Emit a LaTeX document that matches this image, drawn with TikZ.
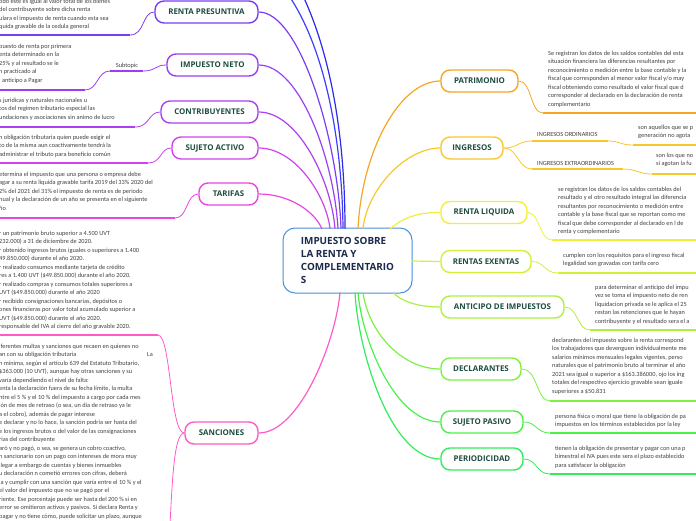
\documentclass[tikz,border=0pt]{standalone}
\usepackage{fontspec}
\setmainfont{Carlito}
\newfontfamily\titf{Open Sans}
\definecolor{tgreen}{HTML}{1E4D40}
\definecolor{bgray}{HTML}{404040}
\definecolor{cblue}{HTML}{4A90D9}
\definecolor{cnavy}{HTML}{1B2A4A}
\definecolor{blA}{HTML}{2B2BE8}
\definecolor{blB}{HTML}{3D3DFF}
\definecolor{rpC}{HTML}{7A3DF2}
\definecolor{inC}{HTML}{9B3FF0}
\definecolor{coC}{HTML}{AE3FEF}
\definecolor{saC}{HTML}{CF43EE}
\definecolor{taC}{HTML}{EA46E0}
\definecolor{snC}{HTML}{FF5AC8}
\definecolor{paC}{HTML}{F5A623}
\definecolor{igC}{HTML}{F8C72E}
\definecolor{rlC}{HTML}{F2EE3A}
\definecolor{reC}{HTML}{D2F03A}
\definecolor{anC}{HTML}{AEF03F}
\definecolor{deC}{HTML}{7EF042}
\definecolor{spC}{HTML}{4CF04A}
\definecolor{peC}{HTML}{33EC5C}
\begin{document}
\begin{tikzpicture}[x=1pt,y=-1pt,
  topicbox/.style={draw=#1, line width=1.4pt, rounded corners=9pt, fill=white,
    inner sep=0pt, minimum height=22pt,
    font=\titf\bfseries\fontsize{7.9}{9}\selectfont, text=tgreen},
  txt/.style={anchor=north west, inner sep=0pt, align=left,
    font=\fontsize{6.3}{8.5}\selectfont, text=bgray},
  lbl/.style={inner sep=0pt, font=\fontsize{6.3}{8.5}\selectfont, text=bgray},
  conn/.style={line width=1.2pt, draw=#1},
  uline/.style={line width=2.2pt, draw=#1},
  subc/.style={line width=0.8pt, draw=#1}]
\useasboundingbox (0,0) rectangle (696,520);

% ---------- central topic ----------
\node[draw=cblue, line width=1pt, rounded corners=12pt, fill=white,
  minimum width=129pt, minimum height=65pt, inner sep=0pt, align=left,
  font=\titf\bfseries\fontsize{9.9}{13.3}\selectfont, text=cnavy] (c) at (347.5,260.5)
  {IMPUESTO SOBRE\\LA RENTA Y\\COMPLEMENTARIO\\S};

% ---------- left topics ----------
\node[topicbox=rpC, minimum width=103pt] (rp) at (206.5,12) {RENTA PRESUNTIVA};
\node[topicbox=inC, minimum width=91pt] (in) at (212.5,65) {IMPUESTO NETO};
\node[topicbox=coC, minimum width=97pt] (co) at (209.5,112) {CONTRIBUYENTES};
\node[topicbox=saC, minimum width=86pt] (sa) at (215,148) {SUJETO ACTIVO};
\node[topicbox=taC, minimum width=59pt] (ta) at (228.5,194) {TARIFAS};
\node[topicbox=snC, minimum width=73pt] (sn) at (221.5,433) {SANCIONES};

% ---------- right topics ----------
\node[topicbox=paC, minimum width=77pt] (pa) at (479.5,81) {PATRIMONIO};
\node[topicbox=igC, minimum width=62pt] (ig) at (472,148) {INGRESOS};
\node[topicbox=rlC, minimum width=86pt] (rl) at (484,212.5) {RENTA LIQUIDA};
\node[topicbox=reC, minimum width=90pt] (re) at (486,261.5) {RENTAS EXENTAS};
\node[topicbox=anC, minimum width=123pt] (an) at (502.5,307) {ANTICIPO DE IMPUESTOS};
\node[topicbox=deC, minimum width=80pt] (de) at (481,369) {DECLARANTES};
\node[topicbox=spC, minimum width=82pt] (sp) at (482,422) {SUJETO PASIVO};
\node[topicbox=peC, minimum width=82pt] (pe) at (482,459) {PERIODICIDAD};

% ---------- connection points on the central topic ----------
\coordinate (cA) at (345,228.5);
\coordinate (cB) at (343,228.5);
\coordinate (c1) at (341,228.5);
\coordinate (c2) at (338,228.5);
\coordinate (c3) at (335,228.5);
\coordinate (c4) at (330,228.5);
\coordinate (c5) at (322,229);
\coordinate (c6) at (340,292.5);
\coordinate (r1) at (358,228.5);
\coordinate (r2) at (363,228.5);
\coordinate (r3) at (390,229);
\coordinate (r4) at (412,261);
\coordinate (r5) at (393,292.5);
\coordinate (r6) at (363,292.5);
\coordinate (r7) at (358,292.5);
\coordinate (r8) at (355,292.5);
\coordinate (offA) at (255,-40);
\coordinate (offB) at (255,-75);

% ---------- main connectors ----------
\draw[conn=blA] (cA) .. controls (345,120) and (325,-5) .. (offB);
\draw[conn=blB] (cB) .. controls (342,130) and (320,5) .. (offA);
\draw[conn=rpC] (rp.east) .. controls (300,12) and (338,140) .. (c1);
\draw[conn=inC] (in.east) .. controls (300,65) and (334,160) .. (c2);
\draw[conn=coC] (co.east) .. controls (298,112) and (331,180) .. (c3);
\draw[conn=saC] (sa.east) .. controls (295,148) and (326,195) .. (c4);
\draw[conn=taC] (ta.east) .. controls (290,194) and (315,212) .. (c5);
\draw[conn=snC] (sn.east) .. controls (300,433) and (336,340) .. (c6);
\draw[conn=paC] (pa.west) .. controls (400,81) and (362,150) .. (r1);
\draw[conn=igC] (ig.west) .. controls (405,148) and (367,190) .. (r2);
\draw[conn=rlC] (rl.west) .. controls (415,212) and (400,220) .. (r3);
\draw[conn=reC] (re.west) -- (r4);
\draw[conn=anC] (an.west) .. controls (415,307) and (400,300) .. (r5);
\draw[conn=deC] (de.west) .. controls (400,369) and (368,330) .. (r6);
\draw[conn=spC] (sp.west) .. controls (395,422) and (362,340) .. (r7);
\draw[conn=peC] (pe.west) .. controls (390,459) and (358,350) .. (r8);

% ---------- left texts ----------
\node[txt, font=\fontsize{6.3}{8.4}\selectfont] (rpt) at (-1,-1)
 {odo este es igual al valor total de los bienes\\
  del contribuyente sobre dicha renta\\
  ulara el impuesto de renta cuando esta sea\\
  quida gravable de la cedula general};
\coordinate (rpu0) at (0,35); \coordinate (rpu1) at (130,35);
\draw[uline=rpC] (rpu0) -- (rpu1);
\draw[subc=rpC] (rp.west) .. controls (142,12) and (145,35) .. (rpu1);

\node[lbl] (subt) at (127,66) {Subtopic};
\coordinate (st0) at (110,71); \coordinate (st1) at (143,71);
\draw[uline=inC] (st0) -- (st1);
\draw[subc=inC] (in.west) .. controls (155,65) and (156,71) .. (st1);
\node[txt] (int) at (-1,43.5)
 {puesto de renta por primera\\
  enta determinado en la\\
  25\% y al resultado se le\\
  n practicado al\\
  l anticipo a Pagar};
\coordinate (inu0) at (0,90); \coordinate (inu1) at (85,90);
\draw[uline=inC] (inu0) -- (inu1);
\draw[subc=inC] (st0) .. controls (97,71) and (98,90) .. (inu1);

\node[txt] (cot) at (-1,97.5)
 {s juridicas y naturales nacionales u\\
  tos del regimen tributario especial las\\
  undaciones y asociaciones sin animo de lucro};
\coordinate (cou0) at (0,127); \coordinate (cou1) at (135,127);
\draw[uline=coC] (cou0) -- (cou1);
\draw[subc=coC] (co.west) .. controls (148,112) and (150,127) .. (cou1);

\node[txt] (sat) at (-1,134.5)
 {n obligación tributaria quien puede exigir el\\
  to de la misma aun coactivamente tendrá la\\
  administrar el tributo para beneficio común};
\coordinate (sau0) at (0,163); \coordinate (sau1) at (148,163);
\draw[uline=saC] (sau0) -- (sau1);
\draw[subc=saC] (sa.west) .. controls (160,148) and (162,163) .. (sau1);

\node[txt] (tat) at (-1,171.5)
 {etermina el impuesto que una persona o empresa debe\\
  agar a su renta liquida gravable tarifa 2019 del 33\% 2020 del\\
  2\% del 2021 del 31\% el impuesto de renta es de periodo\\
  nual y la declaración de un año se presenta en el siguiente\\
  ño};
\coordinate (tau0) at (0,218); \coordinate (tau1) at (175,218);
\draw[uline=taC] (tau0) -- (tau1);
\draw[subc=taC] (ta.west) .. controls (186,194) and (188,218) .. (tau1);

\node[txt] (dect) at (-1,230.5)
 {r un patrimonio bruto superior a 4.500 UVT\\
  232.000) a 31 de diciembre de 2020.\\
  r obtenido ingresos brutos iguales o superiores a 1.400\\
  49.850.000) durante el año 2020.\\
  r realizado consumos mediante tarjeta de crédito\\
  res a 1.400 UVT (\$49.850.000) durante el año 2020.\\
  r realizado compras y consumos totales superiores a\\
  UVT (\$49.850.000) durante el año 2020\\
  r recibido consignaciones bancarias, depósitos o\\
  ones financieras por valor total acumulado superior a\\
  UVT (\$49.850.000) durante el año 2020.\\
  responsable del IVA al cierre del año gravable 2020.};
\coordinate (deu0) at (0,335); \coordinate (deu1) at (158,335);
\draw[uline=snC] (deu0) -- (deu1);
\draw[subc=snC] (sn.west) .. controls (170,433) and (171,335) .. (deu1);

\node[txt] (mult) at (-1,343.5)
 {iferentes multas y sanciones que recaen en quienes no\\
  \makebox[148pt][l]{an con su obligación tributaria}La\\
  n mínima, según el artículo 639 del Estatuto Tributario,\\
  \$363.000 (10 UVT), aunque hay otras sanciones y su\\
  varía dependiendo el nivel de falta:\\
  enta la declaración fuera de su fecha límite, la multa\\
  ntre el 5 \% y el 10 \% del impuesto a cargo por cada mes\\
  ión de mes de retraso (o sea, un día de retraso ya le\\
  a el cobro), además de pagar interese\\
  e declarar y no lo hace, la sanción podría ser hasta del\\
  e los ingresos brutos o del valor de las consignaciones\\
  rias del contribuyente\\
  aró y no pagó, o sea, se genera un cobro coactivo,\\
  n sancionario con un pago con intereses de mora muy\\
  llegar a embargo de cuentas y bienes inmuebles\\
  u declaración n cometió errores con cifras, deberá\\
  la y cumplir con una sanción que varía entre el 10 \% y el\\
  el valor del impuesto que no se pagó por el\\
  riente. Ese porcentaje puede ser hasta del 200 \% si en\\
  error se omitieron activos y pasivos. Si declara Renta y\\
  pagar y no tiene cómo, puede solicitar un plazo, aunque};
\coordinate (mu1) at (168,560);
\draw[subc=snC] (sn.west) .. controls (172,433) and (172,500) .. (mu1);

% ---------- right texts ----------
\node[txt] (pat) at (548,50.5)
 {Se registran los datos de los saldos contables del esta\\
  situación financiera las diferencias resultantes por\\
  reconocimiento o medición entre la base contable y la\\
  fiscal que corresponden al menor valor fiscal y/o may\\
  fiscal obteniendo como resultado el valor fiscal que d\\
  corresponder al declarado en la declaración de renta\\
  complementario};
\coordinate (pau0) at (543,113); \coordinate (pau1) at (696,113);
\draw[uline=paC] (pau0) -- (pau1);
\draw[subc=paC] (pa.east) .. controls (532,81) and (530,113) .. (pau0);

\node[lbl, anchor=west] (ord) at (537,134) {INGRESOS ORDINARIOS};
\coordinate (oru0) at (532,141); \coordinate (oru1) at (608,141);
\draw[uline=igC] (oru0) -- (oru1);
\draw[subc=igC] (ig.east) .. controls (518,148) and (518,141) .. (oru0);
\node[txt] (ordt) at (638,124.5) {son aquellos que se p\\generación no agota};
\coordinate (ort0) at (633,145); \coordinate (ort1) at (696,145);
\draw[uline=igC] (ort0) -- (ort1);
\draw[subc=igC] (oru1) .. controls (620,141) and (620,145) .. (ort0);

\node[lbl, anchor=west] (ext) at (537,163) {INGRESOS EXTRAORDINARIOS};
\coordinate (exu0) at (532,169); \coordinate (exu1) at (623,169);
\draw[uline=igC] (exu0) -- (exu1);
\draw[subc=igC] (ig.east) .. controls (518,148) and (518,169) .. (exu0);
\node[txt] (extt) at (656,152.5) {son los que no\\si agotan la fu};
\coordinate (ext0) at (652,174); \coordinate (ext1) at (696,174);
\draw[uline=igC] (ext0) -- (ext1);
\draw[subc=igC] (exu1) .. controls (637,169) and (638,174) .. (ext0);

\node[txt] (rlt) at (558,186.5)
 {se registran los datos de los saldos contables del\\
  resultado y el otro resultado integral las diferencia\\
  resultantes por reconocimiento o medición entre\\
  contable y la base fiscal que se reportan como me\\
  fiscal que debe corresponder al declarado en l de\\
  renta y complementario};
\coordinate (rlu0) at (552,240); \coordinate (rlu1) at (696,240);
\draw[uline=rlC] (rlu0) -- (rlu1);
\draw[subc=rlC] (rl.east) .. controls (540,212.5) and (539,240) .. (rlu0);

\node[txt] (ret) at (563,252.5)
 {cumplen con los requisitos para el ingreso fiscal\\
  legalidad son gravadas con tarifa cero};
\coordinate (reu0) at (558,273); \coordinate (reu1) at (696,273);
\draw[uline=reC] (reu0) -- (reu1);
\draw[subc=reC] (re.east) .. controls (545,261.5) and (544,273) .. (reu0);

\node[txt] (ant) at (595,284.5)
 {para determinar el anticipo del impu\\
  vez se toma el impuesto neto de ren\\
  liquidacion privada se le aplica el 25\\
  restan las retenciones que le hayan\\
  contribuyente y el resultado sera el a};
\coordinate (anu0) at (590,330); \coordinate (anu1) at (696,330);
\draw[uline=anC] (anu0) -- (anu1);
\draw[subc=anC] (an.east) .. controls (578,307) and (577,330) .. (anu0);

\node[txt] (det) at (552,337.5)
 {declarantes del impuesto sobre la renta correspond\\
  los trabajadores que devenguen individualmente me\\
  salarios mínimos mensuales legales vigentes, perso\\
  naturales que el patrimonio bruto al terminar el año\\
  2021 sea igual o superior a \$163.386000, ojo los ing\\
  totales del respectivo ejercicio gravable sean iguale\\
  superiores a \$50.831};
\coordinate (deR0) at (550,401); \coordinate (deR1) at (696,401);
\draw[uline=deC] (deR0) -- (deR1);
\draw[subc=deC] (de.east) .. controls (538,369) and (536,401) .. (deR0);

\node[txt] (spt) at (555,413.5)
 {persona física o moral que tiene la obligación de pa\\
  impuestos en los términos establecidos por la ley};
\coordinate (spu0) at (550,433); \coordinate (spu1) at (696,433);
\draw[uline=spC] (spu0) -- (spu1);
\draw[subc=spC] (sp.east) .. controls (537,422) and (536,433) .. (spu0);

\node[txt] (pet) at (555,445.5)
 {tienen la obligación de presentar y pagar con una p\\
  bimestral el IVA pues este sera el plazo establecido\\
  para satisfacer la obligación};
\coordinate (peu0) at (550,474); \coordinate (peu1) at (696,474);
\draw[uline=peC] (peu0) -- (peu1);
\draw[subc=peC] (pe.east) .. controls (537,459) and (536,474) .. (peu0);
\end{tikzpicture}
\end{document}
